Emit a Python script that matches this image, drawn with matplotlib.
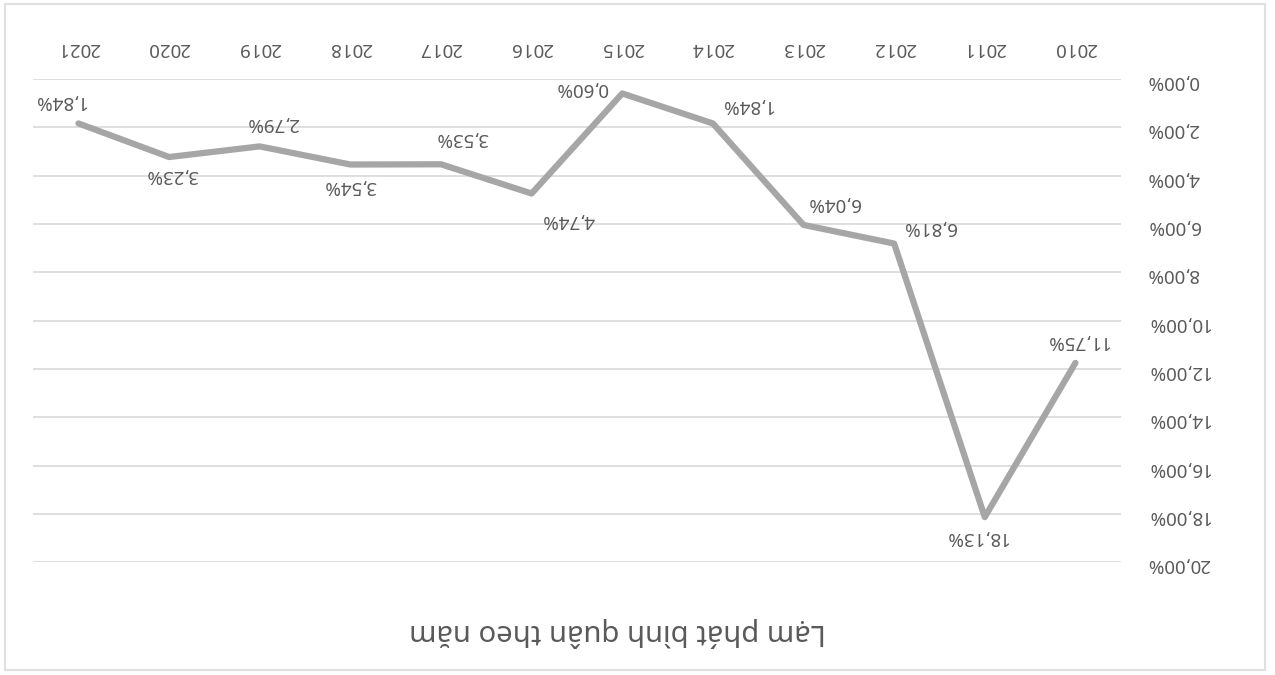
import matplotlib.pyplot as plt
from matplotlib.patches import Rectangle
from matplotlib.ticker import FuncFormatter

# the reference is a photo of the chart turned upside down,
# so every piece is drawn rotated by 180 degrees
years = ['2010', '2011', '2012', '2013', '2014', '2015',
         '2016', '2017', '2018', '2019', '2020', '2021']
inflation = [11.75, 18.13, 6.81, 6.04, 1.84, 0.60,
             4.74, 3.53, 3.54, 2.79, 3.23, 1.84]
title = 'Lạm phát bình quân theo năm'

# label offsets (pixels) as placed in the picture
label_dx = [2, -8, 35, 30, 34, -40, 37, 21, 0, 13, 3, -19]
label_dy = [22, -20, 17, 22, 18, 5, -26, 26, -21, 23, -18, 22]

plt.rcParams['font.family'] = ['Noto Sans', 'DejaVu Sans']

fig = plt.figure(figsize=(12.75, 6.75), dpi=100)
ax = fig.add_axes([0.026, 0.167, 0.853, 0.716])

x = range(len(years))
ax.plot(x, inflation, color='#a6a6a6', linewidth=4.5, solid_capstyle='round',
        zorder=3)

for i, v in enumerate(inflation):
    txt = f'{v:.2f}%'.replace('.', ',')
    ax.annotate(txt, (i, v), xytext=(label_dx[i], label_dy[i]),
                textcoords='offset pixels', ha='center', va='center',
                rotation=180, fontsize=13.5, color='#5a5a5a', zorder=4)

ax.set_xlim(-0.5, len(years) - 0.5)
ax.set_ylim(0, 20)
ax.invert_xaxis()
ax.invert_yaxis()

ax.set_xticks(list(x))
ax.set_xticklabels(years)
ax.set_yticks(range(0, 21, 2))
ax.yaxis.set_major_formatter(FuncFormatter(lambda v, p: f'{v:.2f}%'.replace('.', ',')))

ax.xaxis.tick_top()
ax.yaxis.tick_right()
ax.tick_params(axis='both', length=0, labelrotation=180, labelsize=13.5,
               labelcolor='#5a5a5a')
ax.tick_params(axis='x', pad=16)
ax.tick_params(axis='y', pad=19)

ax.grid(axis='y', color='#d9d9d9', linewidth=1.2)
ax.set_axisbelow(True)
for s in ax.spines.values():
    s.set_visible(False)

fig.text(618 / 1275, 1 - 632 / 675, title, rotation=180, ha='center',
         va='center', fontsize=21, color='#595959')

fig.patches.append(Rectangle((0.004, 0.008), 0.988, 0.986, transform=fig.transFigure,
                             fill=False, edgecolor='#e0e0e0', linewidth=1.5))

fig.savefig('out.png', dpi=100)
